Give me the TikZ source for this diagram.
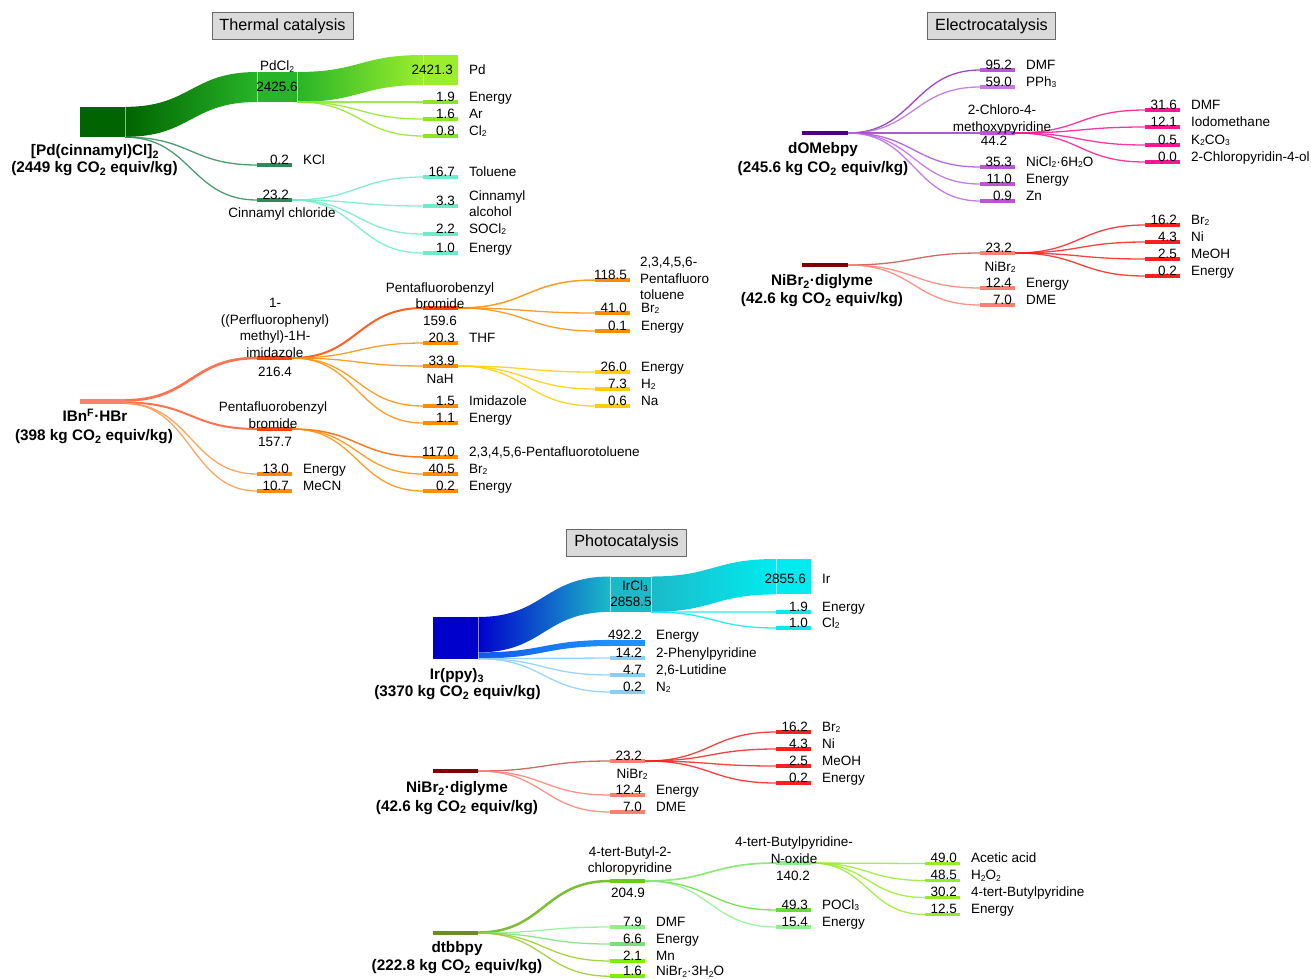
\documentclass[tikz,border=0pt]{standalone}
\usepackage{fontspec}
\setmainfont{Liberation Sans}
\usetikzlibrary{calc}
\pgfdeclarelayer{bg}
\pgfsetlayers{bg,main}
\newcommand\lfs{\fontsize{13.5}{16.5}\selectfont}
\newcommand\bfs{\fontsize{15.3}{18}\selectfont\bfseries}
\newcommand\tfs{\fontsize{16.2}{19}\selectfont}
\newcommand\sbs[1]{\raisebox{-0.25ex}{\fontsize{8.5}{8.5}\selectfont #1}}
\newcommand\bsb[1]{\textsubscript{#1}}
\newcommand\lk[3][]{\begin{pgfonlayer}{bg}\draw[lnk,#1] let \p1=#2, \p2=#3 in (\p1) .. controls ({(\x1+\x2)/2},\y1) and ({(\x1+\x2)/2},\y2) .. (\p2);\end{pgfonlayer}}
\newcommand\band[5]{\begin{pgfonlayer}{bg}\shade[#1] let \p1=#2, \p2=#4, \p3=#5, \p4=#3 in (\p1) .. controls ({(\x1+\x2)/2},\y1) and ({(\x1+\x2)/2},\y2) .. (\p2) -- (\p3) .. controls ({(\x1+\x2)/2},\y3) and ({(\x1+\x2)/2},\y4) .. (\p4) -- cycle;\end{pgfonlayer}}
\newcommand\tg[6]{\node[nbar,fill=#4] (#1) at (#2,#3) {};\node[vlab] at (#1.north east) {#5};\node[nlab] at (#1.north east) {#6};}
\definecolor{tdark}{RGB}{0,100,0}
\definecolor{tmid}{RGB}{40,180,40}
\definecolor{tlight}{RGB}{155,238,45}
\definecolor{tsm}{RGB}{140,230,40}
\definecolor{csea}{RGB}{46,139,87}
\definecolor{caqua}{RGB}{110,235,200}
\definecolor{csalm}{RGB}{250,128,114}
\definecolor{cored}{RGB}{255,69,0}
\definecolor{corng}{RGB}{255,140,0}
\definecolor{cgold}{RGB}{255,205,0}
\definecolor{cindg}{RGB}{75,0,130}
\definecolor{cmorch}{RGB}{186,85,211}
\definecolor{cmorch2}{RGB}{200,120,225}
\definecolor{cdpink}{RGB}{255,20,147}
\definecolor{cdred}{RGB}{128,0,0}
\definecolor{cred}{RGB}{255,30,30}
\definecolor{cmblue}{RGB}{0,0,205}
\definecolor{cteal}{RGB}{28,186,200}
\definecolor{ccyan}{RGB}{0,235,240}
\definecolor{cdodg}{RGB}{30,144,255}
\definecolor{cblue2}{RGB}{15,90,230}
\definecolor{clsky}{RGB}{135,206,250}
\definecolor{colive}{RGB}{107,142,35}
\definecolor{cgrn}{RGB}{102,205,20}
\definecolor{cgrn2}{RGB}{100,220,50}
\definecolor{clgrn}{RGB}{144,238,144}
\definecolor{clgrn2}{RGB}{120,225,120}
\definecolor{clawn}{RGB}{124,240,0}
\definecolor{cygrn}{RGB}{150,235,40}
\definecolor{cbox}{RGB}{218,218,218}
\definecolor{cboxl}{RGB}{105,105,105}
\tikzset{
  nbar/.style={rectangle, inner sep=0pt, outer sep=0pt, minimum width=35pt, minimum height=3.5pt, draw=none},
  vlab/.style={anchor=base east, inner sep=0pt, xshift=-3pt, yshift=-0.8pt, font=\lfs},
  nlab/.style={anchor=base west, inner sep=0pt, xshift=11pt, yshift=-0.8pt, font=\lfs},
  capt/.style={inner sep=0pt, font=\lfs, align=center},
  blab/.style={anchor=base, inner sep=0pt, font=\bfs},
  lnk/.style={line width=1.3pt, draw opacity=0.85},
  ttl/.style={draw=cboxl, fill=cbox, line width=0.9pt, font=\tfs, inner xsep=7.5pt, inner ysep=0pt, minimum height=27pt},
  edge/.style={draw=white, draw opacity=0.55, line width=0.7pt}
}
\begin{document}
\begin{tikzpicture}[x=1pt,y=-1pt]
\useasboundingbox (0,0) rectangle (1311,978);
% ================= Thermal catalysis =================
\node[ttl] (tt1) at (282.5,26) {Thermal catalysis};
\node[nbar,minimum width=45pt,minimum height=30.3pt,fill=tdark] (pdsrc) at (102.5,122) {};
\node[nbar,minimum width=40pt,minimum height=30pt,fill=tmid] (pdcl2) at (277,87) {};
\node[nbar,minimum width=35pt,minimum height=30pt,fill=tlight] (pd) at (440.5,70) {};
\band{left color=tdark,right color=tmid}{(pdsrc.north east)}{([yshift=0.3pt]pdsrc.south east)}{(pdcl2.north west)}{(pdcl2.south west)}
\band{left color=tmid,right color=tlight}{(pdcl2.north east)}{(pdcl2.south east)}{(pd.north west)}{(pd.south west)}
\draw[edge] (pdsrc.north east) -- (pdsrc.south east);
\draw[edge] (pdcl2.north west) -- (pdcl2.south west);
\draw[edge] (pdcl2.north east) -- (pdcl2.south east);
\draw[edge] (pd.north west) -- (pd.south west);
\node[capt,anchor=base] at (277,70.5) {PdCl\sbs{2}};
\node[capt,anchor=base] at (277,91) {2425.6};
\node[capt,anchor=base east] at (453,74) {2421.3};
\node[capt,anchor=base west] at (469,74) {Pd};
\tg{e1}{440.5}{102}{tsm}{1.9}{Energy}
\tg{ar}{440.5}{119}{tsm}{1.6}{Ar}
\tg{cl}{440.5}{136}{tsm}{0.8}{Cl\sbs{2}}
\tg{kcl}{274.5}{165}{csea}{0.2}{KCl}
\tg{cc}{274.5}{200}{csea}{23.2}{}
\node[capt,anchor=base] at (282,217) {Cinnamyl chloride};
\tg{tol}{440.5}{177}{caqua}{16.7}{Toluene}
\tg{ca}{440.5}{206}{caqua}{3.3}{}
\node[capt,anchor=west,align=left] at (469,203.5) {Cinnamyl\\alcohol};
\tg{socl}{440.5}{234}{caqua}{2.2}{SOCl\sbs{2}}
\tg{e2}{440.5}{253}{caqua}{1.0}{Energy}
\lk[draw=tsm]{(pdcl2.south east)}{(e1.west)}
\lk[draw=tsm]{(pdcl2.south east)}{(ar.west)}
\lk[draw=tsm]{(pdcl2.south east)}{(cl.west)}
\lk[draw=csea]{(pdsrc.south east)}{(kcl.west)}
\lk[draw=csea]{(pdsrc.south east)}{(cc.west)}
\lk[draw=caqua]{(cc.east)}{(tol.west)}
\lk[draw=caqua]{(cc.east)}{(ca.west)}
\lk[draw=caqua]{(cc.east)}{(socl.west)}
\lk[draw=caqua]{(cc.east)}{(e2.west)}
\node[blab] at (95,155.5) {[Pd(cinnamyl)Cl]\bsb{2}};
\node[blab] at (94.5,172.5) {(2449 kg CO\bsb{2} equiv/kg)};
% ================= IBnF.HBr =================
\node[nbar,minimum width=45pt,minimum height=5pt,fill=csalm] (ibsrc) at (102.5,401.5) {};
\node[nbar,fill=cored] (imid) at (274.5,358) {};
\node[capt] at (275,328) {1-\\((Perfluorophenyl)\\methyl)-1H-\\imidazole};
\node[capt,anchor=base] at (275,376) {216.4};
\node[nbar,fill=cored] (pfb2) at (440.5,308) {};
\node[capt] at (440,295.5) {Pentafluorobenzyl\\bromide};
\node[capt,anchor=base] at (440,325.5) {159.6};
\tg{thf}{440.5}{343}{corng}{20.3}{THF}
\tg{nah}{440.5}{366}{corng}{33.9}{}
\node[capt,anchor=base] at (440,383) {NaH};
\tg{imz}{440.5}{406}{corng}{1.5}{Imidazole}
\tg{e3}{440.5}{423}{corng}{1.1}{Energy}
\tg{pft1}{612.5}{280}{corng}{118.5}{}
\node[capt,anchor=west,align=left] at (640,278.5) {2,3,4,5,6-\\Pentafluoro\\toluene};
\tg{br1}{612.5}{313}{corng}{41.0}{Br\sbs{2}}
\tg{e4}{612.5}{331}{corng}{0.1}{Energy}
\tg{e5}{612.5}{372}{cgold}{26.0}{Energy}
\tg{h2}{612.5}{389}{cgold}{7.3}{H\sbs{2}}
\tg{na}{612.5}{406}{cgold}{0.6}{Na}
\node[nbar,fill=cored] (pfb1) at (274.5,429) {};
\node[capt] at (273,415) {Pentafluorobenzyl\\bromide};
\node[capt,anchor=base] at (275,446) {157.7};
\tg{pft2}{440.5}{457}{corng}{117.0}{2,3,4,5,6-Pentafluorotoluene}
\tg{br2}{440.5}{474}{corng}{40.5}{Br\sbs{2}}
\tg{e6}{440.5}{491}{corng}{0.2}{Energy}
\tg{e7}{274.5}{474}{corng}{13.0}{Energy}
\tg{mecn}{274.5}{491}{corng}{10.7}{MeCN}
\lk[draw={rgb,255:red,255;green,90;blue,50},line width=2.7pt]{([yshift=1.2pt]ibsrc.east)}{(imid.west)}
\lk[draw={rgb,255:red,255;green,90;blue,50},line width=2pt]{([yshift=-1pt]ibsrc.east)}{(pfb1.west)}
\lk[draw={rgb,255:red,255;green,150;blue,70}]{([yshift=-2pt]ibsrc.east)}{(e7.west)}
\lk[draw={rgb,255:red,255;green,150;blue,70}]{([yshift=-2pt]ibsrc.east)}{(mecn.west)}
\lk[draw=cored,line width=2pt]{(imid.east)}{(pfb2.west)}
\lk[draw=corng]{(imid.east)}{(thf.west)}
\lk[draw=corng]{(imid.east)}{(nah.west)}
\lk[draw=corng]{(imid.east)}{(imz.west)}
\lk[draw=corng]{(imid.east)}{(e3.west)}
\lk[draw=corng,line width=1.5pt]{(pfb2.east)}{(pft1.west)}
\lk[draw=corng]{(pfb2.east)}{(br1.west)}
\lk[draw=corng]{(pfb2.east)}{(e4.west)}
\lk[draw=cgold]{(nah.east)}{(e5.west)}
\lk[draw=cgold]{(nah.east)}{(h2.west)}
\lk[draw=cgold]{(nah.east)}{(na.west)}
\lk[draw={rgb,255:red,255;green,100;blue,0},line width=1.5pt]{(pfb1.east)}{(pft2.west)}
\lk[draw=corng]{(pfb1.east)}{(br2.west)}
\lk[draw=corng]{(pfb1.east)}{(e6.west)}
\node[blab] at (95,421.5) {IBn\textsuperscript{F}·HBr};
\node[blab] at (94,440.5) {(398 kg CO\bsb{2} equiv/kg)};
% ================= Electrocatalysis =================
\node[ttl] (tt2) at (991.5,26) {Electrocatalysis};
\node[nbar,minimum width=46pt,fill=cindg] (dsrc) at (825,133) {};
\tg{dmf1}{997.5}{70}{cmorch}{95.2}{DMF}
\tg{pph}{997.5}{87}{cmorch2}{59.0}{PPh\sbs{3}}
\node[nbar,fill=cmorch] (cmp) at (997.5,133) {};
\node[capt] at (1002,119.5) {2-Chloro-4-\\methoxypyridine};
\node[capt,anchor=base] at (994,145) {44.2};
\tg{nicl}{997.5}{167}{cmorch}{35.3}{NiCl\sbs{2}·6H\sbs{2}O}
\tg{ee1}{997.5}{184}{cmorch}{11.0}{Energy}
\tg{zn}{997.5}{201}{cmorch}{0.9}{Zn}
\tg{dmf2}{1162.5}{110}{cdpink}{31.6}{DMF}
\tg{iodo}{1162.5}{127}{cdpink}{12.1}{Iodomethane}
\tg{kco}{1162.5}{145}{cdpink}{0.5}{K\sbs{2}CO\sbs{3}}
\tg{cpo}{1162.5}{162}{cdpink}{0.0}{2-Chloropyridin-4-ol}
\lk[draw={rgb,255:red,140;green,40;blue,190}]{(dsrc.east)}{(dmf1.west)}
\lk[draw={rgb,255:red,180;green,110;blue,220}]{(dsrc.east)}{(pph.west)}
\lk[draw={rgb,255:red,160;green,60;blue,200}]{(dsrc.east)}{(cmp.west)}
\lk[draw={rgb,255:red,170;green,80;blue,215}]{(dsrc.east)}{(nicl.west)}
\lk[draw={rgb,255:red,185;green,105;blue,225}]{(dsrc.east)}{(ee1.west)}
\lk[draw={rgb,255:red,185;green,105;blue,225}]{(dsrc.east)}{(zn.west)}
\lk[draw=cdpink]{(cmp.east)}{(dmf2.west)}
\lk[draw=cdpink]{(cmp.east)}{(iodo.west)}
\lk[draw=cdpink]{(cmp.east)}{(kco.west)}
\lk[draw=cdpink]{(cmp.east)}{(cpo.west)}
\node[blab] at (823,153.5) {dOMebpy};
\node[blab] at (823,172.5) {(245.6 kg CO\bsb{2} equiv/kg)};
\node[nbar,minimum width=46pt,fill=cdred] (esrc) at (825,265) {};
\tg{enb}{997.5}{253}{csalm}{23.2}{}
\node[capt,anchor=base] at (1000,271) {NiBr\sbs{2}};
\tg{ee2}{997.5}{288}{csalm}{12.4}{Energy}
\tg{edme}{997.5}{305}{csalm}{7.0}{DME}
\tg{ebr}{1162.5}{225}{cred}{16.2}{Br\sbs{2}}
\tg{eni}{1162.5}{242}{cred}{4.3}{Ni}
\tg{emeoh}{1162.5}{259}{cred}{2.5}{MeOH}
\tg{ee3}{1162.5}{276}{cred}{0.2}{Energy}
\lk[draw={rgb,255:red,200;green,80;blue,70}]{(esrc.east)}{(enb.west)}
\lk[draw=csalm]{(esrc.east)}{(ee2.west)}
\lk[draw=csalm]{(esrc.east)}{(edme.west)}
\lk[draw=cred]{(enb.east)}{(ebr.west)}
\lk[draw=cred]{(enb.east)}{(eni.west)}
\lk[draw=cred]{(enb.east)}{(emeoh.west)}
\lk[draw=cred]{(enb.east)}{(ee3.west)}
\node[blab] at (822,285.5) {NiBr\bsb{2}·diglyme};
\node[blab] at (822,303.5) {(42.6 kg CO\bsb{2} equiv/kg)};
% ================= Photocatalysis =================
\node[ttl] (tt3) at (626.5,542.5) {Photocatalysis};
\node[nbar,minimum width=45pt,minimum height=41.7pt,fill=cmblue] (irsrc) at (455.5,637.85) {};
\node[nbar,minimum width=41pt,minimum height=35.4pt,fill=cteal] (ircl3) at (630.5,594.2) {};
\node[nbar,minimum width=35pt,minimum height=35.4pt,fill=ccyan] (ir) at (793.5,576.7) {};
\node[nbar,minimum height=6.1pt,fill=cdodg] (en492) at (627.5,643) {};
\band{left color=cmblue,right color=cteal}{(irsrc.north east)}{([yshift=6.3pt]irsrc.south east)}{(ircl3.north west)}{(ircl3.south west)}
\band{left color=cteal,right color=ccyan}{(ircl3.north east)}{(ircl3.south east)}{(ir.north west)}{(ir.south west)}
\band{left color=cblue2,right color=cdodg}{([yshift=6.3pt]irsrc.south east)}{([yshift=0.2pt]irsrc.south east)}{(en492.north west)}{(en492.south west)}
\draw[edge] (irsrc.north east) -- (irsrc.south east);
\draw[edge] (ircl3.north west) -- (ircl3.south west);
\draw[edge] (ircl3.north east) -- (ircl3.south east);
\draw[edge] (ir.north west) -- (ir.south west);
\node[capt,anchor=base] at (635,590) {IrCl\sbs{3}};
\node[capt,anchor=base] at (631,606) {2858.5};
\node[capt,anchor=base east] at (806,583) {2855.6};
\node[capt,anchor=base west] at (822,583) {Ir};
\node[vlab,yshift=1.5pt] at (en492.north east) {492.2};
\node[nlab,yshift=1.5pt] at (en492.north east) {Energy};
\tg{ppy}{627.5}{658}{clsky}{14.2}{2-Phenylpyridine}
\tg{lut}{627.5}{675}{clsky}{4.7}{2,6-Lutidine}
\tg{ntwo}{627.5}{692}{clsky}{0.2}{N\sbs{2}}
\tg{ie}{793.5}{612}{ccyan}{1.9}{Energy}
\tg{icl}{793.5}{628}{ccyan}{1.0}{Cl\sbs{2}}
\lk[draw=clsky]{(irsrc.south east)}{(ppy.west)}
\lk[draw=clsky]{(irsrc.south east)}{(lut.west)}
\lk[draw=clsky]{(irsrc.south east)}{(ntwo.west)}
\lk[draw=ccyan]{(ircl3.south east)}{(ie.west)}
\lk[draw=ccyan]{(ircl3.south east)}{(icl.west)}
\node[blab] at (457,679.5) {Ir(ppy)\bsb{3}};
\node[blab] at (457.5,696.5) {(3370 kg CO\bsb{2} equiv/kg)};
% NiBr2 diglyme (photo)
\node[nbar,minimum width=45pt,fill=cdred] (psrc) at (455.5,771) {};
\tg{p23}{627.5}{761}{csalm}{23.2}{}
\node[capt,anchor=base] at (632,778) {NiBr\sbs{2}};
\tg{pe}{627.5}{795}{csalm}{12.4}{Energy}
\tg{pdme}{627.5}{812}{csalm}{7.0}{DME}
\tg{pbr}{793.5}{732}{cred}{16.2}{Br\sbs{2}}
\tg{pni}{793.5}{749}{cred}{4.3}{Ni}
\tg{pmeoh}{793.5}{766}{cred}{2.5}{MeOH}
\tg{pe2}{793.5}{783}{cred}{0.2}{Energy}
\lk[draw={rgb,255:red,200;green,80;blue,70}]{(psrc.east)}{(p23.west)}
\lk[draw=csalm]{(psrc.east)}{(pe.west)}
\lk[draw=csalm]{(psrc.east)}{(pdme.west)}
\lk[draw=cred]{(p23.east)}{(pbr.west)}
\lk[draw=cred]{(p23.east)}{(pni.west)}
\lk[draw=cred]{(p23.east)}{(pmeoh.west)}
\lk[draw=cred]{(p23.east)}{(pe2.west)}
\node[blab] at (457,792.5) {NiBr\bsb{2}·diglyme};
\node[blab] at (457,811) {(42.6 kg CO\bsb{2} equiv/kg)};
% dtbbpy
\node[nbar,minimum width=45pt,fill=colive] (tsrc) at (455.5,933) {};
\node[nbar,fill=cgrn] (c204) at (627.5,881) {};
\node[capt] at (630,861) {4-tert-Butyl-2-\\chloropyridine};
\node[capt,anchor=base] at (628,897) {204.9};
\tg{tdmf}{627.5}{927}{clgrn}{7.9}{DMF}
\tg{ten}{627.5}{944}{clgrn2}{6.6}{Energy}
\tg{tmn}{627.5}{961}{clawn}{2.1}{Mn}
\tg{tnib}{627.5}{976.2}{clawn}{1.6}{NiBr\sbs{2}·3H\sbs{2}O}
\node[nbar,fill=clgrn] (c140) at (793.5,863) {};
\node[capt] at (794,850) {4-tert-Butylpyridine-\\N-oxide};
\node[capt,anchor=base] at (793,880) {140.2};
\tg{pocl}{793.5}{910}{cgrn2}{49.3}{POCl\sbs{3}}
\tg{ten2}{793.5}{927}{clgrn}{15.4}{Energy}
\tg{aa}{942.5}{863.5}{cygrn}{49.0}{Acetic acid}
\tg{hoo}{942.5}{880.5}{cygrn}{48.5}{H\sbs{2}O\sbs{2}}
\tg{tbp}{942.5}{897.5}{cygrn}{30.2}{4-tert-Butylpyridine}
\tg{ten3}{942.5}{914.5}{cygrn}{12.5}{Energy}
\lk[draw={rgb,255:red,100;green,180;blue,20},line width=2.5pt]{([yshift=0.5pt]tsrc.east)}{(c204.west)}
\lk[draw=clgrn]{(tsrc.east)}{(tdmf.west)}
\lk[draw=clgrn2]{(tsrc.east)}{(ten.west)}
\lk[draw={rgb,255:red,150;green,205;blue,40}]{(tsrc.east)}{(tmn.west)}
\lk[draw={rgb,255:red,150;green,205;blue,40}]{(tsrc.east)}{(tnib.west)}
\lk[draw={rgb,255:red,120;green,230;blue,100},line width=1.7pt]{(c204.east)}{(c140.west)}
\lk[draw=cgrn2]{(c204.east)}{(pocl.west)}
\lk[draw=clgrn]{(c204.east)}{(ten2.west)}
\lk[draw=cygrn]{(c140.east)}{(aa.west)}
\lk[draw=cygrn]{(c140.east)}{(hoo.west)}
\lk[draw=cygrn]{(c140.east)}{(tbp.west)}
\lk[draw=cygrn]{(c140.east)}{(ten3.west)}
\node[blab] at (457,952.5) {dtbbpy};
\node[blab] at (457,970.5) {(222.8 kg CO\bsb{2} equiv/kg)};
\end{tikzpicture}
\end{document}
